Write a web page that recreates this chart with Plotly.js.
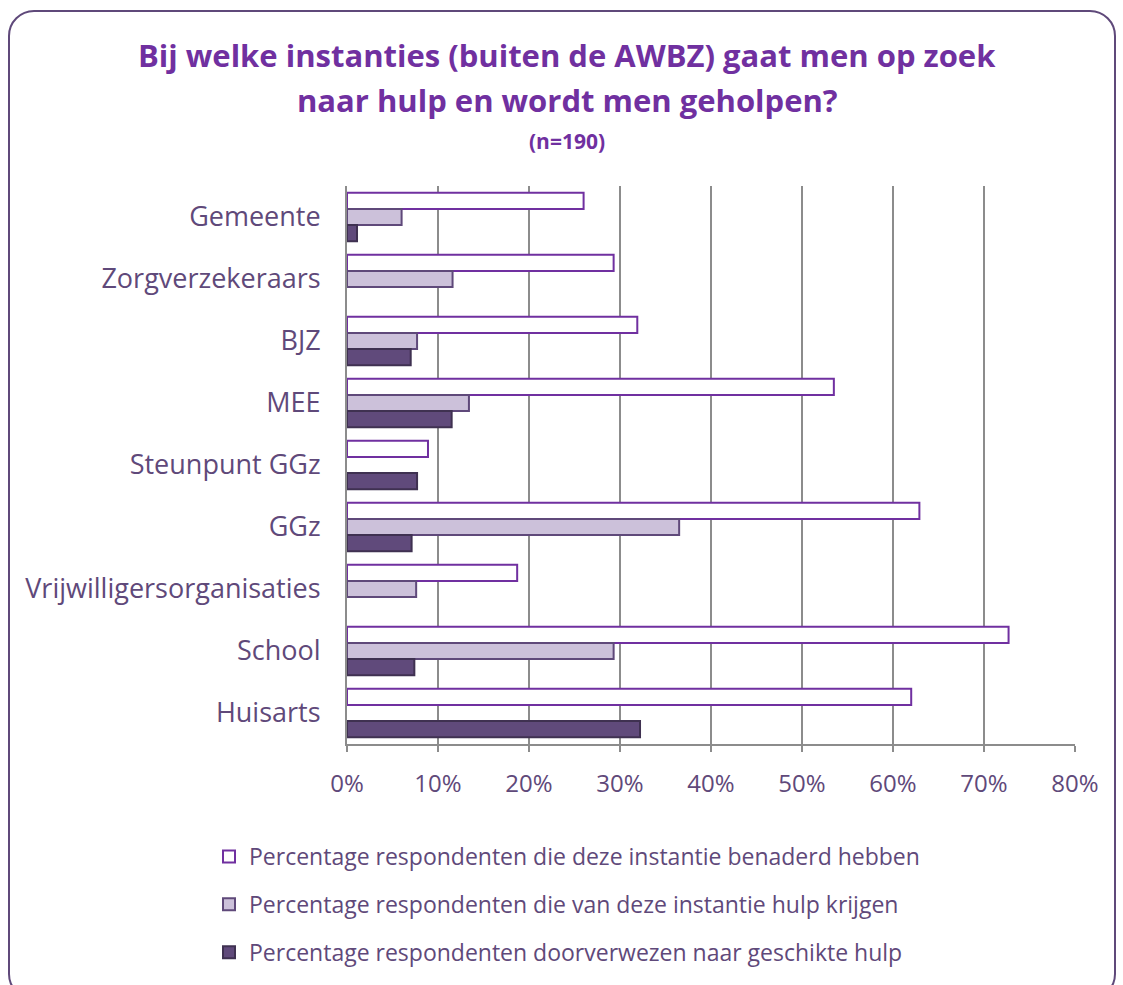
<!DOCTYPE html>
<html>
<head>
<meta charset="utf-8">
<script src="https://cdn.plot.ly/plotly-3.0.1.min.js"></script>
<style>
  html, body { margin: 0; padding: 0; background: #fff; }
  #frame { position: absolute; left: 8px; top: 10px; width: 1108px; height: 990px;
           border: 2px solid #5F497A; border-radius: 26px; box-sizing: border-box; }
  #chart { position: absolute; left: 0; top: 0; width: 1123px; height: 985px; }
</style>
</head>
<body>
<div id="frame"></div>
<div id="chart"></div>
<script>
const categories = ["Gemeente", "Zorgverzekeraars", "BJZ", "MEE", "Steunpunt GGz", "GGz",
                    "Vrijwilligersorganisaties", "School", "Huisarts"];
const seriesNames = [
  "Percentage respondenten die deze instantie benaderd hebben",
  "Percentage respondenten die van deze instantie hulp krijgen",
  "Percentage respondenten doorverwezen naar geschikte hulp"
];
const benaderd     = [0.260, 0.293, 0.319, 0.535, 0.089, 0.629, 0.187, 0.727, 0.620];
const hulpKrijgen  = [0.060, 0.116, 0.077, 0.134, null,  0.365, 0.076, 0.293, null];
const doorverwezen = [0.011, null,  0.070, 0.115, 0.077, 0.071, null,  0.074, 0.322];
const tickVals = [0, 0.1, 0.2, 0.3, 0.4, 0.5, 0.6, 0.7, 0.8];
const tickText = ["0%", "10%", "20%", "30%", "40%", "50%", "60%", "70%", "80%"];
const titleLines = ["Bij welke instanties (buiten de AWBZ) gaat men op zoek",
                    "naar hulp en wordt men geholpen?"];
const subtitle = "(n=190)";

const FONT = "Open Sans, Noto Sans, sans-serif";
const TXT = "#5F497A";
const TITLE = "#7030A0";

const traces = [
  { name: seriesNames[0], x: benaderd, fill: "#FFFFFF", line: "#7030A0" },
  { name: seriesNames[1], x: hulpKrijgen, fill: "#CCC1DA", line: "#5F497A" },
  { name: seriesNames[2], x: doorverwezen, fill: "#604A7B", line: "#3F3151" }
].map((t, i) => ({
  type: "bar", orientation: "h", name: t.name, x: t.x, y: categories,
  legendgroup: "g" + i,
  marker: { color: t.fill, line: { color: t.line, width: 2 } },
  hoverinfo: "x+y"
}));

// plot area: left 347, right 1075, top 186, bottom 745 (height 559)
const PH = 559, PB = 745, PL = 347, PW = 728;
const py = px => (PB - px) / PH;
const pxX = px => (px - PL) / PW;

const annotations = [
  { text: "<b>" + titleLines[0] + "</b>", x: pxX(567), y: py(55), size: 31 },
  { text: "<b>" + titleLines[1] + "</b>", x: pxX(567), y: py(100), size: 31 },
  { text: "<b>" + subtitle + "</b>", x: pxX(567), y: py(141), size: 21 }
].map(a => ({
  text: a.text, x: a.x, y: a.y, xref: "paper", yref: "paper",
  xanchor: "center", yanchor: "middle", showarrow: false,
  font: { family: FONT, size: a.size, color: TITLE }
}));

const layout = {
  width: 1123, height: 985,
  paper_bgcolor: "rgba(0,0,0,0)", plot_bgcolor: "rgba(0,0,0,0)",
  margin: { l: 347, r: 48, t: 186, b: 240, pad: 0 },
  font: { family: FONT, color: TXT },
  annotations: annotations,
  barmode: "group", bargap: 0.22, bargroupgap: 0,
  xaxis: {
    range: [0, 0.8], tickvals: tickVals, ticktext: tickText,
    showgrid: true, gridcolor: "#8C8C8C", gridwidth: 2,
    showline: true, linecolor: "#8C8C8C", linewidth: 2,
    ticks: "outside", ticklen: 6, tickwidth: 2, tickcolor: "#8C8C8C",
    zeroline: false, tickfont: { size: 24, color: TXT, family: FONT },
    ticklabelstandoff: 11,
    fixedrange: true
  },
  yaxis: {
    autorange: "reversed", type: "category",
    showline: true, linecolor: "#8C8C8C", linewidth: 2,
    ticks: "", showgrid: false, zeroline: false,
    ticklabelstandoff: 19,
    tickfont: { size: 27, color: TXT, family: FONT },
    fixedrange: true
  },
  showlegend: true,
  legend: {
    orientation: "v", x: pxX(209), xanchor: "left", y: -0.161, yanchor: "top",
    traceorder: "grouped", tracegroupgap: 15,
    font: { size: 23, color: TXT, family: FONT },
    itemwidth: 30, bgcolor: "rgba(0,0,0,0)"
  }
};

Plotly.newPlot("chart", traces, layout, { displayModeBar: false, staticPlot: true });
</script>
</body>
</html>
